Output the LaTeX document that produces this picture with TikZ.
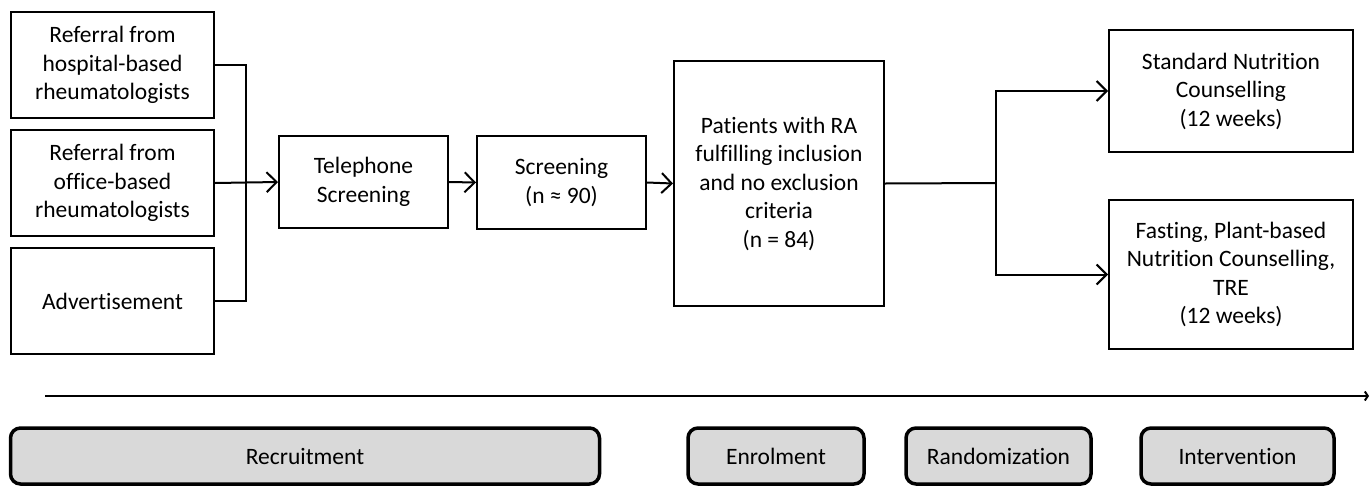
\documentclass[tikz,border=0pt]{standalone}
\usepackage{fontspec}
\setmainfont{Carlito}[Ligatures=NoCommon]
\usetikzlibrary{arrows.meta}
\begin{document}
\begin{tikzpicture}[x=1pt,y=-1pt,
  box/.style={draw,line width=2pt,inner sep=0pt,align=center,font=\fontsize{23.5}{28.5}\selectfont},
  phase/.style={draw,line width=3.5pt,rounded corners=10pt,fill=black!15,inner sep=0pt,align=center,font=\fontsize{23.5}{28}\selectfont},
  conn/.style={line width=2pt},
  arr/.style={line width=2pt,-{Straight Barb[length=10pt,width=20pt,line width=2pt]}}]
\useasboundingbox (0,0) rectangle (1370,485);
\node[box,minimum width=203pt,minimum height=106pt] (A) at (112.5,65) {Referral from\\hospital-based\\rheumatologists};
\node[box,minimum width=203pt,minimum height=106pt] (B) at (112.5,183) {Referral from\\office-based\\rheumatologists};
\node[box,minimum width=203pt,minimum height=106pt] (C) at (112.5,301) {Advertisement};
\node[box,minimum width=169pt,minimum height=92pt] (T) at (363.5,182) {Telephone\\Screening};
\node[box,minimum width=169pt,minimum height=93pt] (S) at (561.5,182.5) {Screening\\(n ≈ 90)};
\node[box,minimum width=210pt,minimum height=245pt] (P) at (779,183.5) {Patients with RA\\fulfilling inclusion\\and no exclusion\\criteria\\(n = 84)};
\node[box,minimum width=244pt,minimum height=122pt] (N) at (1231,91) {Standard Nutrition\\Counselling\\(12 weeks)};
\node[box,minimum width=244pt,minimum height=149pt] (F) at (1231,274.5) {Fasting, Plant-based\\Nutrition Counselling,\\TRE\\(12 weeks)};
\coordinate (j1) at (246,183);
\coordinate (j2) at (996,183);
\draw[conn] (A.east) -| (j1);
\draw[conn] (C.east) -| (j1);
\draw[arr] (B.east) -- (T.west);
\draw[arr] (T.east) -- (S.west);
\draw[arr] (S.east) -- (P.west);
\draw[conn] (P.east) -- (j2);
\draw[arr] (j2) |- (N.west);
\draw[arr] (j2) |- (F.west);
\coordinate (t0) at (45,396);
\coordinate (t1) at (1369,396);
\draw[line width=2pt,-{Straight Barb[length=3pt,width=9pt]}] (t0) -- (t1);
\node[phase,minimum width=589pt,minimum height=56pt] (R) at (305,456) {Recruitment};
\node[phase,minimum width=176pt,minimum height=56pt] (E) at (776,456) {Enrolment};
\node[phase,minimum width=185pt,minimum height=56pt] (Ra) at (998.5,456) {Randomization};
\node[phase,minimum width=193pt,minimum height=56pt] (I) at (1237.5,456) {Intervention};
\end{tikzpicture}
\end{document}
